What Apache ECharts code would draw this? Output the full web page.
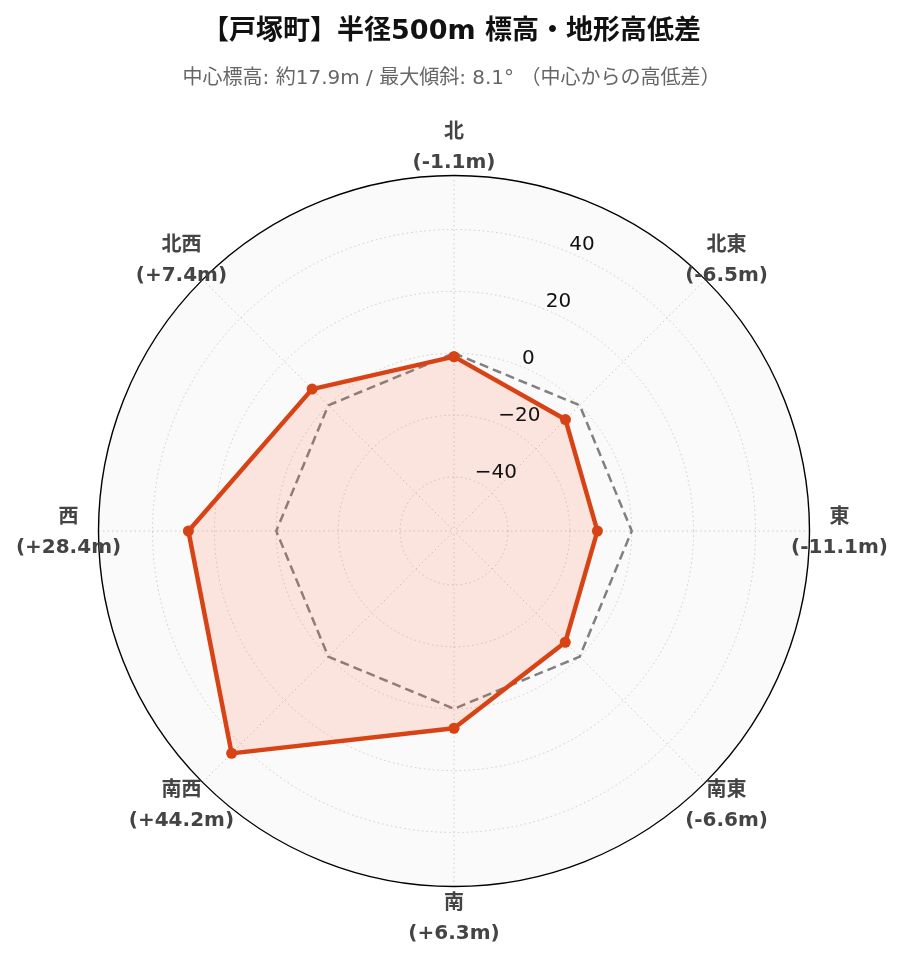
<!DOCTYPE html>
<html><head><meta charset="utf-8">
<script src="https://cdn.jsdelivr.net/npm/echarts@6/dist/echarts.min.js"></script>
<style>html,body{margin:0;padding:0;background:#fff}#c{width:903px;height:962px}</style>
</head><body><div id="c"></div>
<script>
// ---- data ----
const directions = ['北', '北東', '東', '南東', '南', '南西', '西', '北西'];
const diffs = [-1.1, -6.5, -11.1, -6.6, 6.3, 44.2, 28.4, 7.4];
const baseline = [0, 0, 0, 0, 0, 0, 0, 0];
const radialTicks = [-40, -20, 0, 20, 40];
const radialRange = [-57.46, 57.46];
const titleText = '【戸塚町】半径500m 標高・地形高低差';
const subText = '中心標高: 約17.9m / 最大傾斜: 8.1° （中心からの高低差）';

// ---- layout / style ----
const FONT = '"DejaVu Sans", "Noto Sans CJK JP", sans-serif';
const CENTER = [454, 531];
const RADIUS = 355.5;
const LABEL_MARGIN = -50;   // anchor inside the circle, shifted out again by padding
const LABEL_W = 110, LINE_H = 30, LABEL_OFF = 30, SHIFT_Y = 2;
const RED = '#D84315';
const GRID = { color: '#cccccc', width: 1, type: [1.5, 3] };

function fmtSigned(v) { return (v > 0 ? '+' : '') + v.toFixed(1); }
function fmtTick(v) { return v < 0 ? '\u2212' + Math.abs(v) : String(v); }

function labelPadding(i) {
  const th = i * Math.PI / 4;
  const dx = Math.sin(th), dy = -Math.cos(th);
  const rr = (RADIUS + LABEL_MARGIN) / RADIUS;
  const k = LABEL_OFF - LABEL_MARGIN;
  let pt = 0, pr = 0, pb = 0, pl = 0;
  if (Math.abs(dx) * rr >= 0.3) {
    const v = k * Math.abs(dx) - LABEL_W / 2;
    if (dx > 0) pl = v; else pr = v;
  }
  if (Math.abs(dy) * rr >= 0.3) {
    const v = k * Math.abs(dy) - LINE_H;
    if (dy < 0) pb = v - SHIFT_Y; else pt = v + SHIFT_Y;
  } else {
    pt = 2 * SHIFT_Y;
  }
  return [pt, pr, pb, pl].map(x => Math.max(0, x));
}

function closed(vals) {
  const d = vals.map((v, i) => [v, i]);
  d.push([vals[0], 0]);
  return d;
}

const chart = echarts.init(document.getElementById('c'), null, { renderer: 'canvas' });
chart.setOption({
  backgroundColor: '#ffffff',
  animation: false,
  title: {
    text: titleText,
    subtext: subText,
    left: 'center',
    top: 13,
    itemGap: 24,
    textStyle: { fontSize: 27, fontWeight: 'bold', color: '#111', fontFamily: FONT },
    subtextStyle: { fontSize: 20, color: '#666', fontFamily: FONT }
  },
  polar: [
    { center: CENTER, radius: RADIUS },   // 0: data + grid
    { center: CENTER, radius: RADIUS },   // 1: radial tick labels (at 22.5°)
    { center: CENTER, radius: RADIUS }    // 2: direction labels + background disk
  ],
  angleAxis: [
    {
      polarIndex: 0,
      type: 'value',
      min: 0,
      max: 8,
      interval: 1,
      startAngle: 90,
      clockwise: true,
      axisLine: { show: true, lineStyle: { color: '#000', width: 1.4 } },
      axisTick: { show: false },
      axisLabel: { show: false },
      splitLine: { show: true, lineStyle: GRID },
      splitArea: { show: false },
      z: 1
    },
    {
      polarIndex: 1,
      type: 'value',
      min: 0,
      max: 8,
      startAngle: 67.5,
      clockwise: true,
      show: false
    },
    {
      polarIndex: 2,
      type: 'category',
      data: directions.map((d, i) => ({ value: d, textStyle: { padding: labelPadding(i) } })),
      startAngle: 90,
      clockwise: true,
      boundaryGap: false,
      axisLine: { show: false },
      axisTick: { show: false },
      splitLine: { show: false },
      splitArea: { show: false },
      axisLabel: {
        show: true,
        margin: LABEL_MARGIN,
        width: LABEL_W,
        lineHeight: LINE_H,
        color: '#444',
        fontFamily: FONT,
        fontSize: 20,
        fontWeight: 'bold',
        formatter: (val, idx) => '{a|' + val + '}\n{a|(' + fmtSigned(diffs[idx]) + 'm)}',
        rich: {
          a: { align: 'center', fontSize: 20, fontWeight: 'bold', lineHeight: LINE_H, color: '#444', fontFamily: FONT }
        }
      },
      z: 10
    }
  ],
  radiusAxis: [
    {
      polarIndex: 0,
      type: 'value',
      min: radialRange[0],
      max: radialRange[1],
      axisLine: { show: false },
      axisTick: { show: false, customValues: radialTicks },
      axisLabel: { show: false, customValues: radialTicks },
      splitLine: { show: true, lineStyle: GRID },
      z: 1
    },
    {
      polarIndex: 1,
      type: 'value',
      min: radialRange[0],
      max: radialRange[1],
      axisLine: { show: false },
      axisTick: { show: false, customValues: radialTicks },
      splitLine: { show: false },
      axisLabel: {
        show: true,
        customValues: radialTicks,
        margin: 0,
        align: 'left',
        verticalAlign: 'bottom',
        lineHeight: 16,
        fontSize: 20,
        color: '#111',
        fontFamily: FONT,
        formatter: fmtTick
      },
      z: 10
    },
    {
      polarIndex: 2,
      type: 'value',
      min: radialRange[0],
      max: radialRange[1],
      axisLine: { show: false },
      axisTick: { show: false, customValues: radialRange },
      axisLabel: { show: false },
      splitLine: { show: false },
      splitArea: { show: true, areaStyle: { color: ['#fafafa'] } },
      z: 0
    }
  ],
  series: [
    {
      name: '基準(0m)',
      type: 'line',
      coordinateSystem: 'polar',
      polarIndex: 0,
      data: closed(baseline),
      symbol: 'none',
      lineStyle: { color: '#808080', width: 2.5, type: [9, 5] },
      z: 2,
      silent: true
    },
    {
      name: '高低差',
      type: 'line',
      coordinateSystem: 'polar',
      polarIndex: 0,
      data: closed(diffs),
      symbol: 'circle',
      symbolSize: 11,
      itemStyle: { color: RED },
      lineStyle: { color: RED, width: 4.5 },
      areaStyle: { color: 'rgba(255,87,34,0.19)', origin: 'start' },
      z: 3
    }
  ]
});
</script>
</body></html>
